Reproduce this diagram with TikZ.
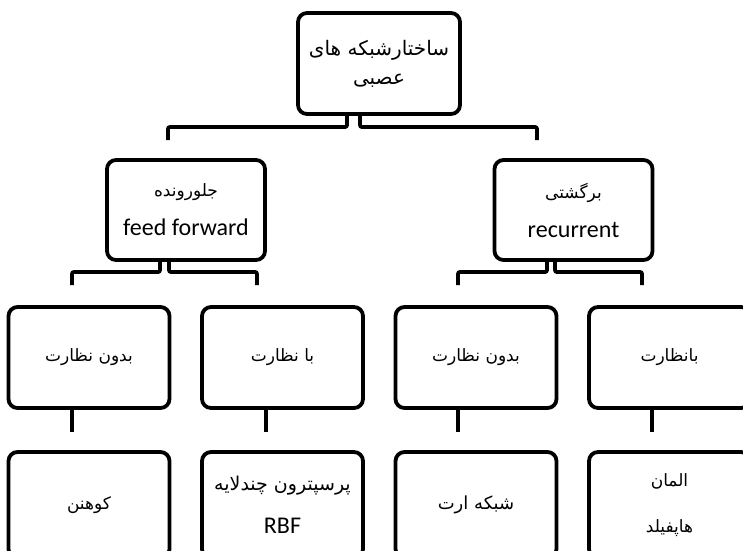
\documentclass[tikz,border=0pt]{standalone}
\usepackage{fontspec}
\setmainfont{Carlito}
\newfontfamily\fafont[Script=Arabic]{DejaVu Sans}
\TeXXeTstate=1
\usetikzlibrary{calc}
\newcommand{\pfa}[2][17]{{\fafont\fontsize{#1}{38}\selectfont\beginR #2\endR}}
\tikzset{
  box/.style={draw=black, line width=3.8pt, rounded corners=9pt, minimum width=161pt,
    minimum height=101pt, inner sep=0pt, outer sep=0pt, align=center, fill=white,
    font=\fontsize{24}{38}\selectfont},
  conn/.style={draw=black, line width=3.8pt, rounded corners=2pt},
}
\begin{document}
\begin{tikzpicture}[x=1pt,y=-1pt]
\useasboundingbox (0,0) rectangle (743,550);
\clip (0,0) rectangle (743,550);
\fill[white] (0,0) rectangle (743,550);

% level 1
\node[box, minimum width=162pt] (top) at (379,63.5)
  {\pfa[20]{ساختارشبکه های}\\[-9pt]\pfa[20]{عصبی}};
% level 2
\node[box, minimum width=158pt, minimum height=100pt] (ff) at (186,210)
  {\pfa{جلورونده}\\[1pt]feed forward};
\node[box, minimum width=158pt, minimum height=100pt] (rec) at (573.5,210)
  {\pfa{برگشتی}\\[1pt]recurrent};
% level 3
\node[box] (s1) at (89,357.5) {\pfa{بدون نظارت}};
\node[box] (s2) at (282.5,357.5) {\pfa{با نظارت}};
\node[box] (s3) at (476,357.5) {\pfa{بدون نظارت}};
\node[box] (s4) at (669.5,357.5) {\pfa{بانظارت}};
% level 4
\node[box, minimum height=106pt] (l1) at (89,505) {\pfa[17]{کوهنن}};
\node[box, minimum height=106pt] (l2) at (282.5,505) {\pfa[19]{پرسپترون چندلایه}\\[5pt]RBF};
\node[box, minimum height=106pt] (l3) at (476,505) {\pfa[18]{شبکه ارت}};
\node[box, minimum height=106pt] (l4) at (669.5,505) {\pfa[17]{المان}\\[8pt]\pfa[17]{هاپفیلد}};

% connectors
\draw[conn] ([xshift=-32pt]top.south) -- ++(0,13) -| ([xshift=-18pt,yshift=20pt]ff.north);
\draw[conn] ([xshift=-19pt]top.south) -- ++(0,13) -| ([xshift=-36.5pt,yshift=20pt]rec.north);
\draw[conn] ([xshift=-26pt]ff.south) -- ++(0,12) -| ([xshift=-17pt,yshift=22pt]s1.north);
\draw[conn] ([xshift=-17pt]ff.south) -- ++(0,12) -| ([xshift=-25.5pt,yshift=22pt]s2.north);
\draw[conn] ([xshift=-26.5pt]rec.south) -- ++(0,12) -| ([xshift=-18pt,yshift=22pt]s3.north);
\draw[conn] ([xshift=-18.5pt]rec.south) -- ++(0,12) -| ([xshift=-27.5pt,yshift=22pt]s4.north);
\draw[conn] ([xshift=-17pt]s1.south) -- ([xshift=-17pt,yshift=20pt]l1.north);
\draw[conn] ([xshift=-16.5pt]s2.south) -- ([xshift=-16.5pt,yshift=20pt]l2.north);
\draw[conn] ([xshift=-18pt]s3.south) -- ([xshift=-18pt,yshift=20pt]l3.north);
\draw[conn] ([xshift=-17.5pt]s4.south) -- ([xshift=-17.5pt,yshift=20pt]l4.north);
\end{tikzpicture}
\end{document}
